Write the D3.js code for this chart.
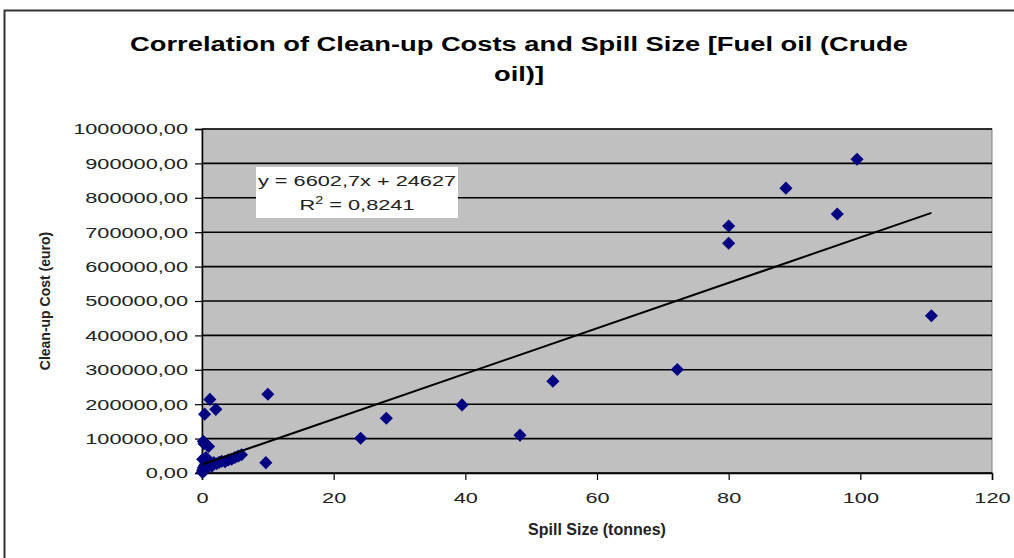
<!DOCTYPE html>
<meta charset="utf-8">
<html>
<head>
<style>
  body { margin: 0; background: #fff; }
  svg text { font-family: "Liberation Sans", Arial, sans-serif; }
</style>
</head>
<body>
<svg width="1014" height="558" id="chart"></svg>
<script src="https://d3js.org/d3.v7.min.js"></script>
<script>
    // spill size (tonnes) and clean-up cost (euro)
    var spillSize = [99.5, 88.7, 96.5, 80.0, 80.0, 110.8, 72.2, 53.3, 48.3, 39.5, 28.0, 24.1, 10.0, 9.7,
        1.2, 2.1, 0.4, 0.2, 1.0, 0.3,
        0.05, 0.1, 0.2, 0.3, 0.4, 0.5, 0.6, 0.8, 1.0, 1.2, 1.5, 1.8, 2.2, 2.6, 3.0, 3.5, 4.0, 4.5, 5.0, 5.5, 6.0, 0.1, 0.6];
    var cleanupCost = [912000, 828000, 753000, 718000, 668000, 457000, 301000, 267000, 110000, 198000, 159000, 101000, 229000, 30000,
        214000, 185000, 171000, 92000, 77000, 85000,
        2000, 8000, 15000, 5000, 22000, 12000, 28000, 18000, 35000, 24000, 20000, 30000, 27000, 31000, 34000, 33000, 38000, 40000, 45000, 49000, 53000, 40000, 45000];

    var xTicks = [0, 20, 40, 60, 80, 100, 120];
    var yTicks = [0, 100000, 200000, 300000, 400000, 500000, 600000, 700000, 800000, 900000, 1000000];

    // linear trendline as printed on the chart
    var trendSlope = 6602.7, trendIntercept = 24627;
    var trendEquation = "y = 6602,7x + 24627";
    var trendR2 = "0,8241";

    var titleLines = ["Correlation of Clean-up Costs and Spill Size [Fuel oil (Crude", "oil)]"];

    var svg = d3.select("#chart"),
        margin = { top: 129, right: 22, bottom: 85, left: 202 },
        width = +svg.attr("width") - margin.left - margin.right,
        height = +svg.attr("height") - margin.top - margin.bottom;

    var x = d3.scaleLinear().domain([0, 120]).range([0, width]),
        y = d3.scaleLinear().domain([0, 1000000]).range([height, 0]);

    var stretch = 1.45; // tick labels in the picture are drawn wide

    /* outer chart border */
    svg.append("rect")
        .attr("x", 4.5).attr("y", 10.5)
        .attr("width", 1030).attr("height", 570)
        .attr("fill", "none").attr("stroke", "#333").attr("stroke-width", 2);

    /* title */
    svg.append("g")
        .attr("transform", "translate(519,0) scale(1.3,1)")
        .selectAll("text")
        .data(titleLines)
        .enter().append("text")
        .attr("x", 0)
        .attr("y", function (d, i) { return 51 + i * 30; })
        .attr("text-anchor", "middle")
        .style("font-size", "21px")
        .style("font-weight", "bold")
        .text(function (d) { return d; });

    var g = svg.append("g")
        .attr("transform", "translate(" + margin.left + "," + margin.top + ")");

    /* plot area */
    g.append("rect")
        .attr("width", width).attr("height", height)
        .attr("fill", "#c0c0c0").attr("stroke", "#808080");

    /* gridlines */
    g.append("g").selectAll("line")
        .data(yTicks)
        .enter().append("line")
        .attr("x1", 0).attr("x2", width)
        .attr("y1", function (d) { return y(d); })
        .attr("y2", function (d) { return y(d); })
        .attr("stroke", "#000").attr("stroke-width", 1.6);

    /* y axis */
    var yAxis = g.append("g")
        .call(d3.axisLeft(y).tickValues(yTicks).tickSize(7)
            .tickFormat(function (d) { return d.toFixed(2).replace(".", ","); }));
    yAxis.select(".domain").attr("stroke", "#000").attr("stroke-width", 1.5);
    yAxis.selectAll(".tick line").attr("stroke", "#000").attr("stroke-width", 1.2);
    yAxis.selectAll("text")
        .attr("x", -14 / stretch)
        .attr("transform", "scale(" + stretch + ",1)")
        .attr("fill", "#222")
        .style("font-size", "15px");

    /* x axis */
    var xAxis = g.append("g")
        .attr("transform", "translate(0," + height + ")")
        .call(d3.axisBottom(x).tickValues(xTicks).tickSize(7));
    xAxis.select(".domain").attr("stroke", "#000").attr("stroke-width", 1.5);
    xAxis.selectAll(".tick line").attr("stroke", "#000").attr("stroke-width", 1.2);
    xAxis.selectAll("text")
        .attr("y", 19)
        .attr("transform", "scale(" + stretch + ",1)")
        .attr("fill", "#222")
        .style("font-size", "15px");

    /* axis titles */
    svg.append("text")
        .attr("transform", "translate(50," + (margin.top + height / 2) + ") rotate(-90)")
        .attr("text-anchor", "middle")
        .style("font-size", "14px")
        .style("font-weight", "bold")
        .attr("fill", "#222")
        .text("Clean-up Cost (euro)");

    svg.append("text")
        .attr("x", margin.left + width / 2)
        .attr("y", 535)
        .attr("text-anchor", "middle")
        .style("font-size", "16px")
        .style("font-weight", "bold")
        .attr("fill", "#222")
        .text("Spill Size (tonnes)");

    /* points */
    var points = spillSize.map(function (s, i) { return { s: s, c: cleanupCost[i] }; });
    var diamond = d3.symbol().type(d3.symbolSquare).size(86);
    g.selectAll(".pt")
        .data(points)
        .enter().append("path")
        .attr("class", "pt")
        .attr("d", diamond)
        .attr("transform", function (d) { return "translate(" + x(d.s) + "," + y(d.c) + ") rotate(45)"; })
        .attr("fill", "#000080");

    /* trendline */
    var xMax = d3.max(spillSize);
    g.append("line")
        .attr("x1", x(0)).attr("y1", y(trendIntercept))
        .attr("x2", x(xMax)).attr("y2", y(trendSlope * xMax + trendIntercept))
        .attr("stroke", "#000").attr("stroke-width", 2);

    /* equation label */
    var lbl = svg.append("g").attr("transform", "translate(357,0)");
    lbl.append("rect")
        .attr("x", -101).attr("y", 167)
        .attr("width", 202).attr("height", 51)
        .attr("fill", "#fff");
    var lblText = lbl.append("g").attr("transform", "scale(" + stretch + ",1)");
    lblText.append("text")
        .attr("y", 186)
        .attr("text-anchor", "middle")
        .attr("fill", "#222")
        .style("font-size", "15px")
        .text(trendEquation);
    var r2 = lblText.append("text")
        .attr("y", 210)
        .attr("text-anchor", "middle")
        .attr("fill", "#222")
        .style("font-size", "15px");
    r2.append("tspan").text("R");
    r2.append("tspan").attr("dy", -6).style("font-size", "10px").text("2");
    r2.append("tspan").attr("dy", 6).text(" = " + trendR2);
</script>
</body>
</html>
